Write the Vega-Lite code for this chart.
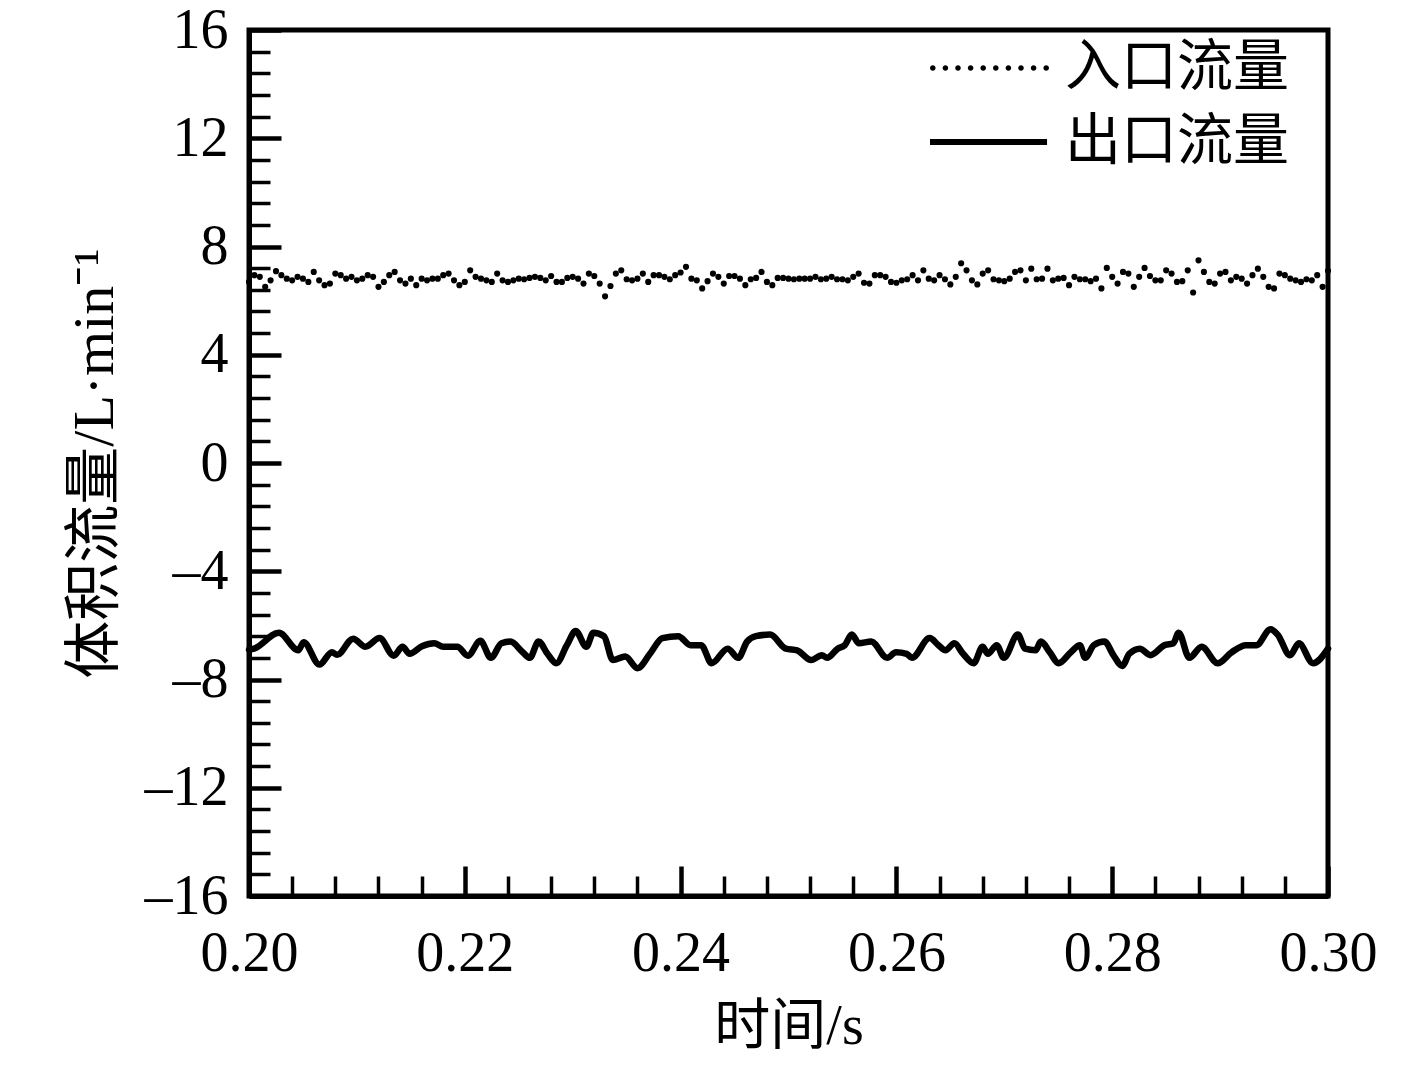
{
"$schema": "https://vega.github.io/schema/vega-lite/v6.json",
"width": 1079, "height": 866,
"autosize": "none",
"padding": {"left": 249, "top": 30, "right": 89, "bottom": 172},
"background": "white",
"config": {"view": {"stroke": "black", "strokeWidth": 5}, "font": "Liberation Serif"},
"datasets": {
"inlet": [
{"t":0.2,"v":6.69,"s":"入口流量"},{"t":0.2005,"v":6.94,"s":"入口流量"},{"t":0.201,"v":6.88,"s":"入口流量"},{"t":0.2015,"v":6.51,"s":"入口流量"},{"t":0.202,"v":6.75,"s":"入口流量"},{"t":0.2025,"v":7.09,"s":"入口流量"},{"t":0.203,"v":6.94,"s":"入口流量"},{"t":0.2035,"v":6.81,"s":"入口流量"},{"t":0.204,"v":6.75,"s":"入口流量"},{"t":0.2045,"v":6.88,"s":"入口流量"},
{"t":0.205,"v":6.81,"s":"入口流量"},{"t":0.2055,"v":6.69,"s":"入口流量"},{"t":0.206,"v":7.06,"s":"入口流量"},{"t":0.2065,"v":6.75,"s":"入口流量"},{"t":0.207,"v":6.57,"s":"入口流量"},{"t":0.2075,"v":6.63,"s":"入口流量"},{"t":0.208,"v":7.0,"s":"入口流量"},{"t":0.2085,"v":6.94,"s":"入口流量"},{"t":0.209,"v":6.81,"s":"入口流量"},{"t":0.2095,"v":6.88,"s":"入口流量"},
{"t":0.21,"v":6.75,"s":"入口流量"},{"t":0.2105,"v":6.81,"s":"入口流量"},{"t":0.211,"v":6.94,"s":"入口流量"},{"t":0.2115,"v":6.88,"s":"入口流量"},{"t":0.212,"v":6.51,"s":"入口流量"},{"t":0.2125,"v":6.69,"s":"入口流量"},{"t":0.213,"v":6.94,"s":"入口流量"},{"t":0.2135,"v":7.06,"s":"入口流量"},{"t":0.214,"v":6.75,"s":"入口流量"},{"t":0.2145,"v":6.63,"s":"入口流量"},
{"t":0.215,"v":6.81,"s":"入口流量"},{"t":0.2155,"v":6.57,"s":"入口流量"},{"t":0.216,"v":6.81,"s":"入口流量"},{"t":0.2165,"v":6.75,"s":"入口流量"},{"t":0.217,"v":6.81,"s":"入口流量"},{"t":0.2175,"v":6.81,"s":"入口流量"},{"t":0.218,"v":6.94,"s":"入口流量"},{"t":0.2185,"v":7.0,"s":"入口流量"},{"t":0.219,"v":6.75,"s":"入口流量"},{"t":0.2195,"v":6.57,"s":"入口流量"},
{"t":0.22,"v":6.69,"s":"入口流量"},{"t":0.2205,"v":7.12,"s":"入口流量"},{"t":0.221,"v":6.88,"s":"入口流量"},{"t":0.2215,"v":6.81,"s":"入口流量"},{"t":0.222,"v":6.75,"s":"入口流量"},{"t":0.2225,"v":6.69,"s":"入口流量"},{"t":0.223,"v":7.0,"s":"入口流量"},{"t":0.2235,"v":6.75,"s":"入口流量"},{"t":0.224,"v":6.69,"s":"入口流量"},{"t":0.2245,"v":6.75,"s":"入口流量"},
{"t":0.225,"v":6.81,"s":"入口流量"},{"t":0.2255,"v":6.79,"s":"入口流量"},{"t":0.226,"v":6.84,"s":"入口流量"},{"t":0.2265,"v":6.88,"s":"入口流量"},{"t":0.227,"v":6.84,"s":"入口流量"},{"t":0.2275,"v":6.75,"s":"入口流量"},{"t":0.228,"v":6.91,"s":"入口流量"},{"t":0.2285,"v":6.69,"s":"入口流量"},{"t":0.229,"v":6.69,"s":"入口流量"},{"t":0.2295,"v":6.84,"s":"入口流量"},
{"t":0.23,"v":6.88,"s":"入口流量"},{"t":0.2305,"v":6.81,"s":"入口流量"},{"t":0.231,"v":6.63,"s":"入口流量"},{"t":0.2315,"v":7.0,"s":"入口流量"},{"t":0.232,"v":6.91,"s":"入口流量"},{"t":0.2325,"v":6.63,"s":"入口流量"},{"t":0.233,"v":6.16,"s":"入口流量"},{"t":0.2335,"v":6.54,"s":"入口流量"},{"t":0.234,"v":7.0,"s":"入口流量"},{"t":0.2345,"v":7.12,"s":"入口流量"},
{"t":0.235,"v":6.79,"s":"入口流量"},{"t":0.2355,"v":6.75,"s":"入口流量"},{"t":0.236,"v":6.81,"s":"入口流量"},{"t":0.2365,"v":7.0,"s":"入口流量"},{"t":0.237,"v":6.69,"s":"入口流量"},{"t":0.2375,"v":6.94,"s":"入口流量"},{"t":0.238,"v":6.94,"s":"入口流量"},{"t":0.2385,"v":6.88,"s":"入口流量"},{"t":0.239,"v":6.79,"s":"入口流量"},{"t":0.2395,"v":6.94,"s":"入口流量"},
{"t":0.24,"v":7.04,"s":"入口流量"},{"t":0.2405,"v":7.25,"s":"入口流量"},{"t":0.241,"v":6.81,"s":"入口流量"},{"t":0.2415,"v":6.75,"s":"入口流量"},{"t":0.242,"v":6.45,"s":"入口流量"},{"t":0.2425,"v":6.72,"s":"入口流量"},{"t":0.243,"v":7.0,"s":"入口流量"},{"t":0.2435,"v":6.88,"s":"入口流量"},{"t":0.244,"v":6.63,"s":"入口流量"},{"t":0.2445,"v":6.91,"s":"入口流量"},
{"t":0.245,"v":6.91,"s":"入口流量"},{"t":0.2455,"v":6.81,"s":"入口流量"},{"t":0.246,"v":6.57,"s":"入口流量"},{"t":0.2465,"v":6.79,"s":"入口流量"},{"t":0.247,"v":6.84,"s":"入口流量"},{"t":0.2475,"v":7.06,"s":"入口流量"},{"t":0.248,"v":6.69,"s":"入口流量"},{"t":0.2485,"v":6.57,"s":"入口流量"},{"t":0.249,"v":6.84,"s":"入口流量"},{"t":0.2495,"v":6.84,"s":"入口流量"},
{"t":0.25,"v":6.81,"s":"入口流量"},{"t":0.2505,"v":6.79,"s":"入口流量"},{"t":0.251,"v":6.81,"s":"入口流量"},{"t":0.2515,"v":6.81,"s":"入口流量"},{"t":0.252,"v":6.81,"s":"入口流量"},{"t":0.2525,"v":6.88,"s":"入口流量"},{"t":0.253,"v":6.79,"s":"入口流量"},{"t":0.2535,"v":6.81,"s":"入口流量"},{"t":0.254,"v":6.88,"s":"入口流量"},{"t":0.2545,"v":6.79,"s":"入口流量"},
{"t":0.255,"v":6.79,"s":"入口流量"},{"t":0.2555,"v":6.75,"s":"入口流量"},{"t":0.256,"v":6.88,"s":"入口流量"},{"t":0.2565,"v":7.0,"s":"入口流量"},{"t":0.257,"v":6.66,"s":"入口流量"},{"t":0.2575,"v":6.63,"s":"入口流量"},{"t":0.258,"v":6.94,"s":"入口流量"},{"t":0.2585,"v":6.94,"s":"入口流量"},{"t":0.259,"v":6.88,"s":"入口流量"},{"t":0.2595,"v":6.69,"s":"入口流量"},
{"t":0.26,"v":6.66,"s":"入口流量"},{"t":0.2605,"v":6.75,"s":"入口流量"},{"t":0.261,"v":6.79,"s":"入口流量"},{"t":0.2615,"v":6.94,"s":"入口流量"},{"t":0.262,"v":6.75,"s":"入口流量"},{"t":0.2625,"v":7.12,"s":"入口流量"},{"t":0.263,"v":6.81,"s":"入口流量"},{"t":0.2635,"v":6.75,"s":"入口流量"},{"t":0.264,"v":6.94,"s":"入口流量"},{"t":0.2645,"v":6.79,"s":"入口流量"},
{"t":0.265,"v":6.6,"s":"入口流量"},{"t":0.2655,"v":6.88,"s":"入口流量"},{"t":0.266,"v":7.38,"s":"入口流量"},{"t":0.2665,"v":7.12,"s":"入口流量"},{"t":0.267,"v":6.75,"s":"入口流量"},{"t":0.2675,"v":6.6,"s":"入口流量"},{"t":0.268,"v":7.0,"s":"入口流量"},{"t":0.2685,"v":7.12,"s":"入口流量"},{"t":0.269,"v":6.79,"s":"入口流量"},{"t":0.2695,"v":6.75,"s":"入口流量"},
{"t":0.27,"v":6.72,"s":"入口流量"},{"t":0.2705,"v":6.81,"s":"入口流量"},{"t":0.271,"v":7.06,"s":"入口流量"},{"t":0.2715,"v":7.12,"s":"入口流量"},{"t":0.272,"v":6.75,"s":"入口流量"},{"t":0.2725,"v":7.18,"s":"入口流量"},{"t":0.273,"v":6.79,"s":"入口流量"},{"t":0.2735,"v":6.81,"s":"入口流量"},{"t":0.274,"v":7.18,"s":"入口流量"},{"t":0.2745,"v":6.75,"s":"入口流量"},
{"t":0.275,"v":6.81,"s":"入口流量"},{"t":0.2755,"v":6.84,"s":"入口流量"},{"t":0.276,"v":6.57,"s":"入口流量"},{"t":0.2765,"v":6.88,"s":"入口流量"},{"t":0.277,"v":6.79,"s":"入口流量"},{"t":0.2775,"v":6.79,"s":"入口流量"},{"t":0.278,"v":6.72,"s":"入口流量"},{"t":0.2785,"v":6.81,"s":"入口流量"},{"t":0.279,"v":6.45,"s":"入口流量"},{"t":0.2795,"v":7.21,"s":"入口流量"},
{"t":0.28,"v":6.88,"s":"入口流量"},{"t":0.2805,"v":6.63,"s":"入口流量"},{"t":0.281,"v":7.06,"s":"入口流量"},{"t":0.2815,"v":7.0,"s":"入口流量"},{"t":0.282,"v":6.51,"s":"入口流量"},{"t":0.2825,"v":6.88,"s":"入口流量"},{"t":0.283,"v":7.21,"s":"入口流量"},{"t":0.2835,"v":6.91,"s":"入口流量"},{"t":0.284,"v":6.75,"s":"入口流量"},{"t":0.2845,"v":6.75,"s":"入口流量"},
{"t":0.285,"v":7.12,"s":"入口流量"},{"t":0.2855,"v":7.0,"s":"入口流量"},{"t":0.286,"v":6.69,"s":"入口流量"},{"t":0.2865,"v":6.72,"s":"入口流量"},{"t":0.287,"v":7.12,"s":"入口流量"},{"t":0.2875,"v":6.3,"s":"入口流量"},{"t":0.288,"v":7.49,"s":"入口流量"},{"t":0.2885,"v":7.06,"s":"入口流量"},{"t":0.289,"v":6.69,"s":"入口流量"},{"t":0.2895,"v":6.63,"s":"入口流量"},
{"t":0.29,"v":7.0,"s":"入口流量"},{"t":0.2905,"v":7.06,"s":"入口流量"},{"t":0.291,"v":6.75,"s":"入口流量"},{"t":0.2915,"v":6.88,"s":"入口流量"},{"t":0.292,"v":6.81,"s":"入口流量"},{"t":0.2925,"v":6.63,"s":"入口流量"},{"t":0.293,"v":6.94,"s":"入口流量"},{"t":0.2935,"v":7.18,"s":"入口流量"},{"t":0.294,"v":6.88,"s":"入口流量"},{"t":0.2945,"v":6.51,"s":"入口流量"},
{"t":0.295,"v":6.45,"s":"入口流量"},{"t":0.2955,"v":7.0,"s":"入口流量"},{"t":0.296,"v":6.94,"s":"入口流量"},{"t":0.2965,"v":6.81,"s":"入口流量"},{"t":0.297,"v":6.75,"s":"入口流量"},{"t":0.2975,"v":6.69,"s":"入口流量"},{"t":0.298,"v":6.79,"s":"入口流量"},{"t":0.2985,"v":6.75,"s":"入口流量"},{"t":0.299,"v":6.94,"s":"入口流量"},{"t":0.2995,"v":6.51,"s":"入口流量"},
{"t":0.3,"v":7.1,"s":"入口流量"}
],
"outlet": [
{"t":0.2,"v":-6.9,"s":"出口流量"},{"t":0.20047,"v":-6.86,"s":"出口流量"},{"t":0.20277,"v":-6.27,"s":"出口流量"},{"t":0.20457,"v":-6.92,"s":"出口流量"},{"t":0.20506,"v":-6.62,"s":"出口流量"},{"t":0.20653,"v":-7.45,"s":"出口流量"},{"t":0.20768,"v":-6.99,"s":"出口流量"},{"t":0.20817,"v":-7.09,"s":"出口流量"},{"t":0.20965,"v":-6.49,"s":"出口流量"},{"t":0.21079,"v":-6.79,"s":"出口流量"},
{"t":0.2121,"v":-6.47,"s":"出口流量"},{"t":0.21341,"v":-7.12,"s":"出口流量"},{"t":0.21423,"v":-6.79,"s":"出口流量"},{"t":0.21488,"v":-7.05,"s":"出口流量"},{"t":0.21603,"v":-6.77,"s":"出口流量"},{"t":0.21717,"v":-6.66,"s":"出口流量"},{"t":0.218,"v":-6.79,"s":"出口流量"},{"t":0.21931,"v":-6.79,"s":"出口流量"},{"t":0.22029,"v":-7.12,"s":"出口流量"},{"t":0.22144,"v":-6.57,"s":"出口流量"},
{"t":0.22242,"v":-7.2,"s":"出口流量"},{"t":0.2234,"v":-6.66,"s":"出口流量"},{"t":0.22422,"v":-6.6,"s":"出口流量"},{"t":0.22537,"v":-6.99,"s":"出口流量"},{"t":0.22602,"v":-7.2,"s":"出口流量"},{"t":0.22684,"v":-6.6,"s":"出口流量"},{"t":0.22766,"v":-7.05,"s":"出口流量"},{"t":0.22848,"v":-7.4,"s":"出口流量"},{"t":0.22946,"v":-6.73,"s":"出口流量"},{"t":0.23028,"v":-6.21,"s":"出口流量"},
{"t":0.23126,"v":-6.79,"s":"出口流量"},{"t":0.23192,"v":-6.27,"s":"出口流量"},{"t":0.2329,"v":-6.4,"s":"出口流量"},{"t":0.23372,"v":-7.28,"s":"出口流量"},{"t":0.23487,"v":-7.15,"s":"出口流量"},{"t":0.23601,"v":-7.58,"s":"出口流量"},{"t":0.23716,"v":-7.05,"s":"出口流量"},{"t":0.23831,"v":-6.47,"s":"出口流量"},{"t":0.23978,"v":-6.4,"s":"出口流量"},{"t":0.24092,"v":-6.73,"s":"出口流量"},
{"t":0.2419,"v":-6.73,"s":"出口流量"},{"t":0.24288,"v":-7.4,"s":"出口流量"},{"t":0.24436,"v":-6.86,"s":"出口流量"},{"t":0.24534,"v":-7.2,"s":"出口流量"},{"t":0.24616,"v":-6.6,"s":"出口流量"},{"t":0.24698,"v":-6.4,"s":"出口流量"},{"t":0.24829,"v":-6.34,"s":"出口流量"},{"t":0.24976,"v":-6.86,"s":"出口流量"},{"t":0.2508,"v":-6.92,"s":"出口流量"},{"t":0.2521,"v":-7.28,"s":"出口流量"},
{"t":0.25309,"v":-7.1,"s":"出口流量"},{"t":0.25358,"v":-7.2,"s":"出口流量"},{"t":0.25456,"v":-6.86,"s":"出口流量"},{"t":0.25522,"v":-6.73,"s":"出口流量"},{"t":0.25587,"v":-6.34,"s":"出口流量"},{"t":0.25652,"v":-6.66,"s":"出口流量"},{"t":0.25767,"v":-6.6,"s":"出口流量"},{"t":0.25915,"v":-7.2,"s":"出口流量"},{"t":0.25996,"v":-6.99,"s":"出口流量"},{"t":0.26095,"v":-7.05,"s":"出口流量"},
{"t":0.26144,"v":-7.2,"s":"出口流量"},{"t":0.26308,"v":-6.47,"s":"出口流量"},{"t":0.26389,"v":-6.73,"s":"出口流量"},{"t":0.26455,"v":-6.92,"s":"出口流量"},{"t":0.26537,"v":-6.66,"s":"出口流量"},{"t":0.26618,"v":-7.05,"s":"出口流量"},{"t":0.26716,"v":-7.4,"s":"出口流量"},{"t":0.26799,"v":-6.79,"s":"出口流量"},{"t":0.26848,"v":-7.05,"s":"出口流量"},{"t":0.2693,"v":-6.73,"s":"出口流量"},
{"t":0.26995,"v":-7.2,"s":"出口流量"},{"t":0.27126,"v":-6.34,"s":"出口流量"},{"t":0.27192,"v":-6.86,"s":"出口流量"},{"t":0.2729,"v":-6.92,"s":"出口流量"},{"t":0.27339,"v":-6.6,"s":"出口流量"},{"t":0.27421,"v":-6.99,"s":"出口流量"},{"t":0.27503,"v":-7.4,"s":"出口流量"},{"t":0.27617,"v":-6.99,"s":"出口流量"},{"t":0.277,"v":-6.73,"s":"出口流量"},{"t":0.27749,"v":-7.2,"s":"出口流量"},
{"t":0.2783,"v":-6.73,"s":"出口流量"},{"t":0.27929,"v":-6.6,"s":"出口流量"},{"t":0.28011,"v":-7.1,"s":"出口流量"},{"t":0.28093,"v":-7.5,"s":"出口流量"},{"t":0.28158,"v":-7.05,"s":"出口流量"},{"t":0.28256,"v":-6.86,"s":"出口流量"},{"t":0.28354,"v":-7.1,"s":"出口流量"},{"t":0.28486,"v":-6.73,"s":"出口流量"},{"t":0.28567,"v":-6.66,"s":"出口流量"},{"t":0.28616,"v":-6.27,"s":"出口流量"},
{"t":0.28715,"v":-7.2,"s":"出口流量"},{"t":0.28829,"v":-6.79,"s":"出口流量"},{"t":0.28977,"v":-7.4,"s":"出口流量"},{"t":0.29108,"v":-6.99,"s":"出口流量"},{"t":0.29238,"v":-6.73,"s":"出口流量"},{"t":0.29336,"v":-6.73,"s":"出口流量"},{"t":0.29468,"v":-6.14,"s":"出口流量"},{"t":0.29533,"v":-6.34,"s":"出口流量"},{"t":0.29648,"v":-7.1,"s":"出口流量"},{"t":0.2973,"v":-6.66,"s":"出口流量"},
{"t":0.29861,"v":-7.4,"s":"出口流量"},{"t":0.3,"v":-6.86,"s":"出口流量"}
]
},
"layer": [
{
"data": {"name": "outlet"},
"mark": {"type": "line", "strokeWidth": 6.5, "strokeJoin": "round", "strokeCap": "round", "interpolate": "monotone"},
"encoding": {
"x": {"field": "t", "type": "quantitative",
 "scale": {"domain": [0.2, 0.3], "nice": false, "zero": false},
 "axis": {"orient": "bottom", "values": [0.2, 0.22, 0.24, 0.26, 0.28, 0.3], "format": ".2f", "grid": false,
  "tickSize": -30, "tickWidth": 4.5, "tickColor": "black", "domainColor": "black", "domainWidth": 5,
  "labelPadding": 60, "labelFontSize": 56, "labelFont": "Liberation Serif", "labelColor": "black", "labelFlush": false, "labelOverlap": false,
  "title": "时间/s", "titleFont": "Liberation Serif, Noto Sans CJK SC", "titleFontSize": 56, "titleFontWeight": "normal", "titleColor": "black", "titlePadding": 18}},
"y": {"field": "v", "type": "quantitative",
 "scale": {"domain": [-16, 16], "nice": false, "zero": false},
 "axis": {"orient": "left", "values": [-16, -12, -8, -4, 0, 4, 8, 12, 16], "grid": false,
  "labelExpr": "datum.value < 0 ? '–' + abs(datum.value) : '' + datum.value",
  "tickSize": -32, "tickWidth": 4.5, "tickColor": "black", "domainColor": "black", "domainWidth": 5,
  "labelPadding": 53, "labelFontSize": 56, "labelFont": "Liberation Serif", "labelColor": "black", "labelFlush": false, "labelOverlap": false,
  "title": "体积流量/L·min⁻¹", "titleFont": "Liberation Serif, Noto Sans CJK SC", "titleFontSize": 58, "titleFontWeight": "normal", "titleColor": "black", "titlePadding": 20}},
"color": {"field": "s", "type": "nominal",
 "scale": {"domain": ["入口流量", "出口流量"], "range": ["black", "black"]},
 "legend": {"orient": "none", "legendX": 681, "legendY": 10, "title": null, "symbolSize": 3136, "labelLimit": 0,
  "labelFontSize": 56, "labelFont": "Noto Sans CJK SC", "labelColor": "black", "labelOffset": 79, "rowPadding": 18, "padding": 0, "labelBaseline": "middle", "symbolOpacity": 1,
  "encode": {"symbols": {"update": {
   "shape": {"signal": "datum.value === '入口流量' ? 'M-1,0a0.1,0.1 0 1,0 0.2,0a0.1,0.1 0 1,0 -0.2,0ZM-0.55,0a0.1,0.1 0 1,0 0.2,0a0.1,0.1 0 1,0 -0.2,0ZM-0.1,0a0.1,0.1 0 1,0 0.2,0a0.1,0.1 0 1,0 -0.2,0ZM0.35,0a0.1,0.1 0 1,0 0.2,0a0.1,0.1 0 1,0 -0.2,0ZM0.8,0a0.1,0.1 0 1,0 0.2,0a0.1,0.1 0 1,0 -0.2,0ZM1.25,0a0.1,0.1 0 1,0 0.2,0a0.1,0.1 0 1,0 -0.2,0ZM1.7,0a0.1,0.1 0 1,0 0.2,0a0.1,0.1 0 1,0 -0.2,0ZM2.15,0a0.1,0.1 0 1,0 0.2,0a0.1,0.1 0 1,0 -0.2,0ZM2.6,0a0.1,0.1 0 1,0 0.2,0a0.1,0.1 0 1,0 -0.2,0ZM3.05,0a0.1,0.1 0 1,0 0.2,0a0.1,0.1 0 1,0 -0.2,0Z' : 'M-1,-0.11L3.18,-0.11L3.18,0.11L-1,0.11Z'"},
   "fill": {"value": "black"}, "stroke": {"value": "transparent"}, "strokeWidth": {"value": 0}, "opacity": {"value": 1}, "size": {"value": 3136}}}}}}
}
},
{
"data": {"name": "inlet"},
"mark": {"type": "point", "filled": true, "size": 38, "opacity": 1},
"encoding": {
"x": {"field": "t", "type": "quantitative",
 "axis": {"orient": "bottom", "values": [0.204, 0.208, 0.212, 0.216, 0.224, 0.228, 0.232, 0.236, 0.244, 0.248, 0.252, 0.256, 0.264, 0.268, 0.272, 0.276, 0.284, 0.288, 0.292, 0.296],
  "grid": false, "domain": false, "labels": false, "title": null, "tickSize": -20, "tickWidth": 3.5, "tickColor": "black"}},
"y": {"field": "v", "type": "quantitative",
 "axis": {"orient": "left", "values": [-15.2, -14.4, -13.6, -12.8, -11.2, -10.4, -9.6, -8.8, -7.2, -6.4, -5.6, -4.8, -3.2, -2.4, -1.6, -0.8, 0.8, 1.6, 2.4, 3.2, 4.8, 5.6, 6.4, 7.2, 8.8, 9.6, 10.4, 11.2, 12.8, 13.6, 14.4, 15.2],
  "grid": false, "domain": false, "labels": false, "title": null, "tickSize": -21, "tickWidth": 3.5, "tickColor": "black"}},
"color": {"field": "s", "type": "nominal"}
}
}
],
"resolve": {"axis": {"x": "independent", "y": "independent"}}
}
